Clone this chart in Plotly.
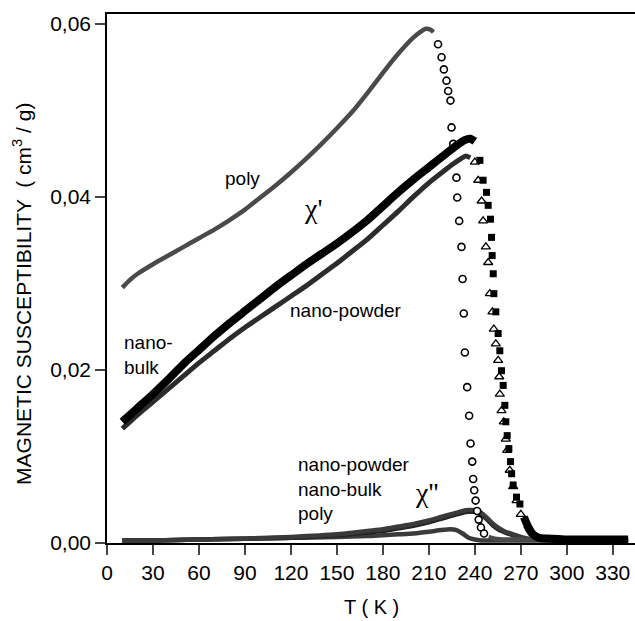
import numpy as np
import plotly.graph_objects as go

# ---------------- data ----------------
# chi' poly (open circles)
poly_T = [10, 15, 20, 30, 40, 50, 60, 70, 80, 90, 100, 110, 120, 130, 140, 150, 160, 170, 180, 190,
          200, 205, 208, 211, 213,
          216, 218.3, 219.8, 221.5, 222.6, 224.1, 224.8, 225.9, 228, 228.5, 229.8, 231.3, 232, 232.8,
          233.5, 235, 236.3, 237.2, 238.3, 238.9, 239.6, 240.5,
          241.5, 242.5, 244, 246, 249, 253, 260, 270, 280, 300, 320, 340]
poly_chi = [0.0295, 0.0304, 0.0311, 0.0322, 0.0332, 0.0342, 0.0352, 0.0362, 0.0373, 0.0385, 0.0399, 0.0413,
            0.0428, 0.0444, 0.0461, 0.0479, 0.0498, 0.0520, 0.0543, 0.0565,
            0.0584, 0.0591, 0.0594, 0.0593, 0.0590,
            0.0576, 0.0561, 0.0547, 0.0534, 0.0522, 0.0511, 0.0480, 0.0461, 0.0422, 0.0399, 0.0372, 0.0342,
            0.0305, 0.0265, 0.0220, 0.0180, 0.0147, 0.0115, 0.0094, 0.0074, 0.0061, 0.0049,
            0.0037, 0.0027, 0.0018, 0.0011, 0.0007, 0.0005, 0.0004, 0.0004, 0.0004, 0.0003, 0.0003, 0.0003]
poly_drop = (213.5, 248)

# chi' nano-bulk (filled squares)
bulk_T = [10, 20, 30, 40, 50, 60, 70, 80, 90, 100, 110, 120, 130, 140, 150, 160, 170, 180, 190, 200,
          210, 220, 228, 233, 237, 240,
          243.3, 245.4, 247.6, 248.7, 250.2, 250.9, 251.3, 252, 252.4, 253.7, 255.2, 256.3, 257.4, 258.5,
          259.6, 260.2, 261.1, 262.2, 263.3, 264, 265, 267.2, 269.4,
          272, 275, 278, 282, 290, 300, 320, 340]
bulk_chi = [0.0140, 0.0156, 0.0172, 0.0189, 0.0207, 0.0223, 0.0239, 0.0254, 0.0268, 0.0282, 0.0296, 0.0309,
            0.0322, 0.0334, 0.0346, 0.0359, 0.0373, 0.0389, 0.0405, 0.0420,
            0.0434, 0.0448, 0.0459, 0.0465, 0.0467, 0.0464,
            0.0442, 0.0419, 0.0405, 0.0390, 0.0374, 0.0353, 0.0332, 0.0311, 0.0288, 0.0267, 0.0242, 0.0222,
            0.0199, 0.0182, 0.0159, 0.0140, 0.0124, 0.0109, 0.0094, 0.0080, 0.0067, 0.0053, 0.0045,
            0.0030, 0.0018, 0.0010, 0.0006, 0.0005, 0.0004, 0.0004, 0.0004]
bulk_drop = (240.5, 271)

# chi' nano-powder (open triangles)
powder_T = [10, 20, 30, 40, 50, 60, 70, 80, 90, 100, 110, 120, 130, 140, 150, 160, 170, 180, 190, 200,
            210, 220, 226, 231, 234, 237,
            240, 242.2, 244.4, 245.4, 247.2, 248.7, 249.8, 251.5, 252.4, 253.7, 255.2, 255.9, 256.3, 257.4,
            258.9, 260.2, 261.1, 262.8, 265, 267.2,
            270, 273, 276, 280, 290, 300, 320, 340]
powder_chi = [0.0132, 0.0148, 0.0163, 0.0178, 0.0193, 0.0208, 0.0222, 0.0236, 0.0249, 0.0261, 0.0273, 0.0285,
              0.0297, 0.0310, 0.0323, 0.0337, 0.0351, 0.0367, 0.0383, 0.0400,
              0.0416, 0.0430, 0.0438, 0.0444, 0.0447, 0.0445,
              0.0440, 0.0419, 0.0395, 0.0372, 0.0342, 0.0324, 0.0288, 0.0267, 0.0247, 0.0230, 0.0211, 0.0192,
              0.0172, 0.0153, 0.0140, 0.0120, 0.0107, 0.0084, 0.0065, 0.0049,
              0.0033, 0.0020, 0.0011, 0.0006, 0.0005, 0.0004, 0.0004, 0.0004]
powder_drop = (237.5, 271)

# chi'' curves
c2_T = [10, 30, 60, 90, 120, 150, 170, 180, 190, 200, 210, 218, 224, 228, 232, 236, 240, 244, 248,
        252, 256, 260, 265, 270, 275, 280, 300, 320, 340]
c2_poly = [0.0003, 0.0003, 0.0004, 0.0005, 0.0006, 0.0007, 0.0008, 0.0009, 0.0010, 0.0011, 0.0013, 0.0015,
           0.0016, 0.0015, 0.0011, 0.0006, 0.0004, 0.0003, 0.0003, 0.0003, 0.0003, 0.0003, 0.0003, 0.0003,
           0.0003, 0.0003, 0.0003, 0.0003, 0.0003]
c2_bulk = [0.0003, 0.0003, 0.0004, 0.0005, 0.0006, 0.0009, 0.0012, 0.0014, 0.0017, 0.0020, 0.0024, 0.0028,
           0.0031, 0.0033, 0.0035, 0.0036, 0.0036, 0.0033, 0.0027, 0.0020, 0.0015, 0.0012, 0.0009, 0.0006,
           0.0004, 0.0004, 0.0003, 0.0003, 0.0003]
c2_powder = [0.0003, 0.0003, 0.0004, 0.0005, 0.0007, 0.0010, 0.0014, 0.0016, 0.0019, 0.0022, 0.0026, 0.0030,
             0.0033, 0.0035, 0.0037, 0.0038, 0.0038, 0.0035, 0.0029, 0.0022, 0.0017, 0.0013, 0.0010, 0.0007,
             0.0005, 0.0004, 0.0004, 0.0004, 0.0004]

x_ticks = list(range(0, 331, 30))
y_ticks = [0.0, 0.02, 0.04, 0.06]
y_ticktext = ["0,00", "0,02", "0,04", "0,06"]

FONT = "Liberation Sans, Arial, sans-serif"
SERIF = "Liberation Serif, Times New Roman, serif"

fig = go.Figure()


def add_series(T, chi, drop, band_color, band_width, symbol, msize, mfill, mline):
    T = np.asarray(T, float)
    chi = np.asarray(chi, float)
    lo, hi = drop
    before = T <= lo + 1e-9
    during = (T > lo) & (T < hi)
    after = T >= hi
    fig.add_trace(go.Scatter(x=T[before], y=chi[before], mode="lines",
                             line=dict(color=band_color, width=band_width, shape="spline", smoothing=0.6),
                             showlegend=False, hoverinfo="skip"))
    fig.add_trace(go.Scatter(x=T[after], y=chi[after], mode="lines",
                             line=dict(color=band_color, width=band_width, shape="spline", smoothing=0.6),
                             showlegend=False, hoverinfo="skip"))
    fig.add_trace(go.Scatter(x=T[during], y=chi[during], mode="markers",
                             marker=dict(symbol=symbol, size=msize, color=mfill,
                                         line=dict(color="black", width=mline)),
                             showlegend=False))


# chi'' bands
for vals, col in [(c2_poly, "#3a3a3a"), (c2_bulk, "#222"), (c2_powder, "#3a3a3a")]:
    fig.add_trace(go.Scatter(x=c2_T, y=vals, mode="lines",
                             line=dict(color=col, width=4.5, shape="spline", smoothing=0.6),
                             showlegend=False, hoverinfo="skip"))

add_series(poly_T, poly_chi, poly_drop, "#4a4a4a", 4.5, "circle", 7, "white", 1.6)
add_series(powder_T, powder_chi, powder_drop, "#2c2c2c", 5, "triangle-up", 8, "white", 1.3)
add_series(bulk_T, bulk_chi, bulk_drop, "black", 8, "square", 7, "black", 0)

annots = [
    dict(x=88.7, y=0.0421, text="poly", xanchor="center", yanchor="middle", font=dict(size=19)),
    dict(x=134.4, y=0.0386, text="χ'", xanchor="center", yanchor="middle", font=dict(size=28, family=SERIF)),
    dict(x=118, y=0.0268, text="nano-powder", xanchor="left", yanchor="middle", font=dict(size=19)),
    dict(x=9.8, y=0.0217, text="nano-<br>bulk", xanchor="left", yanchor="middle", align="left",
         font=dict(size=19)),
    dict(x=123.3, y=0.0062, text="nano-powder<br>nano-bulk<br>poly", xanchor="left", yanchor="middle",
         align="left", font=dict(size=19)),
    dict(x=208.9, y=0.0058, text="χ''", xanchor="center", yanchor="middle", font=dict(size=28, family=SERIF)),
]
for a in annots:
    a.update(xref="x", yref="y", showarrow=False)
    a["font"].setdefault("family", FONT)
    a["font"]["color"] = "black"
    fig.add_annotation(**a)

# axis titles
fig.add_annotation(xref="paper", yref="paper", x=0.5, y=-0.121, text="T ( K )", showarrow=False,
                   xanchor="center", yanchor="middle", font=dict(size=20, family=FONT, color="black"))
fig.add_annotation(xref="paper", yref="paper", x=-0.160, y=0.47,
                   text="MAGNETIC SUSCEPTIBILITY  ( cm<sup>3</sup> / g)", textangle=-90, showarrow=False,
                   xanchor="center", yanchor="middle", font=dict(size=21, family=FONT, color="black"))

fig.update_layout(
    width=635, height=621,
    margin=dict(l=107, r=0, t=14, b=78),
    paper_bgcolor="white", plot_bgcolor="white",
    font=dict(family=FONT, color="black", size=20),
    xaxis=dict(range=[0, 344.5], tickvals=x_ticks, ticks="outside", ticklen=10, tickwidth=1.5,
               showline=True, linewidth=1.5, linecolor="black", mirror=True, showgrid=False,
               zeroline=False, tickfont=dict(size=21, family=FONT, color="black")),
    yaxis=dict(range=[0, 0.0611], tickvals=y_ticks, ticktext=y_ticktext, ticks="outside", ticklen=10,
               tickwidth=1.5, showline=True, linewidth=1.5, linecolor="black", showgrid=False,
               zeroline=False, tickfont=dict(size=21, family=FONT, color="black")),
)

fig.write_html("out.html", config={"displayModeBar": False},
               post_script="document.body.style.margin='0';")
